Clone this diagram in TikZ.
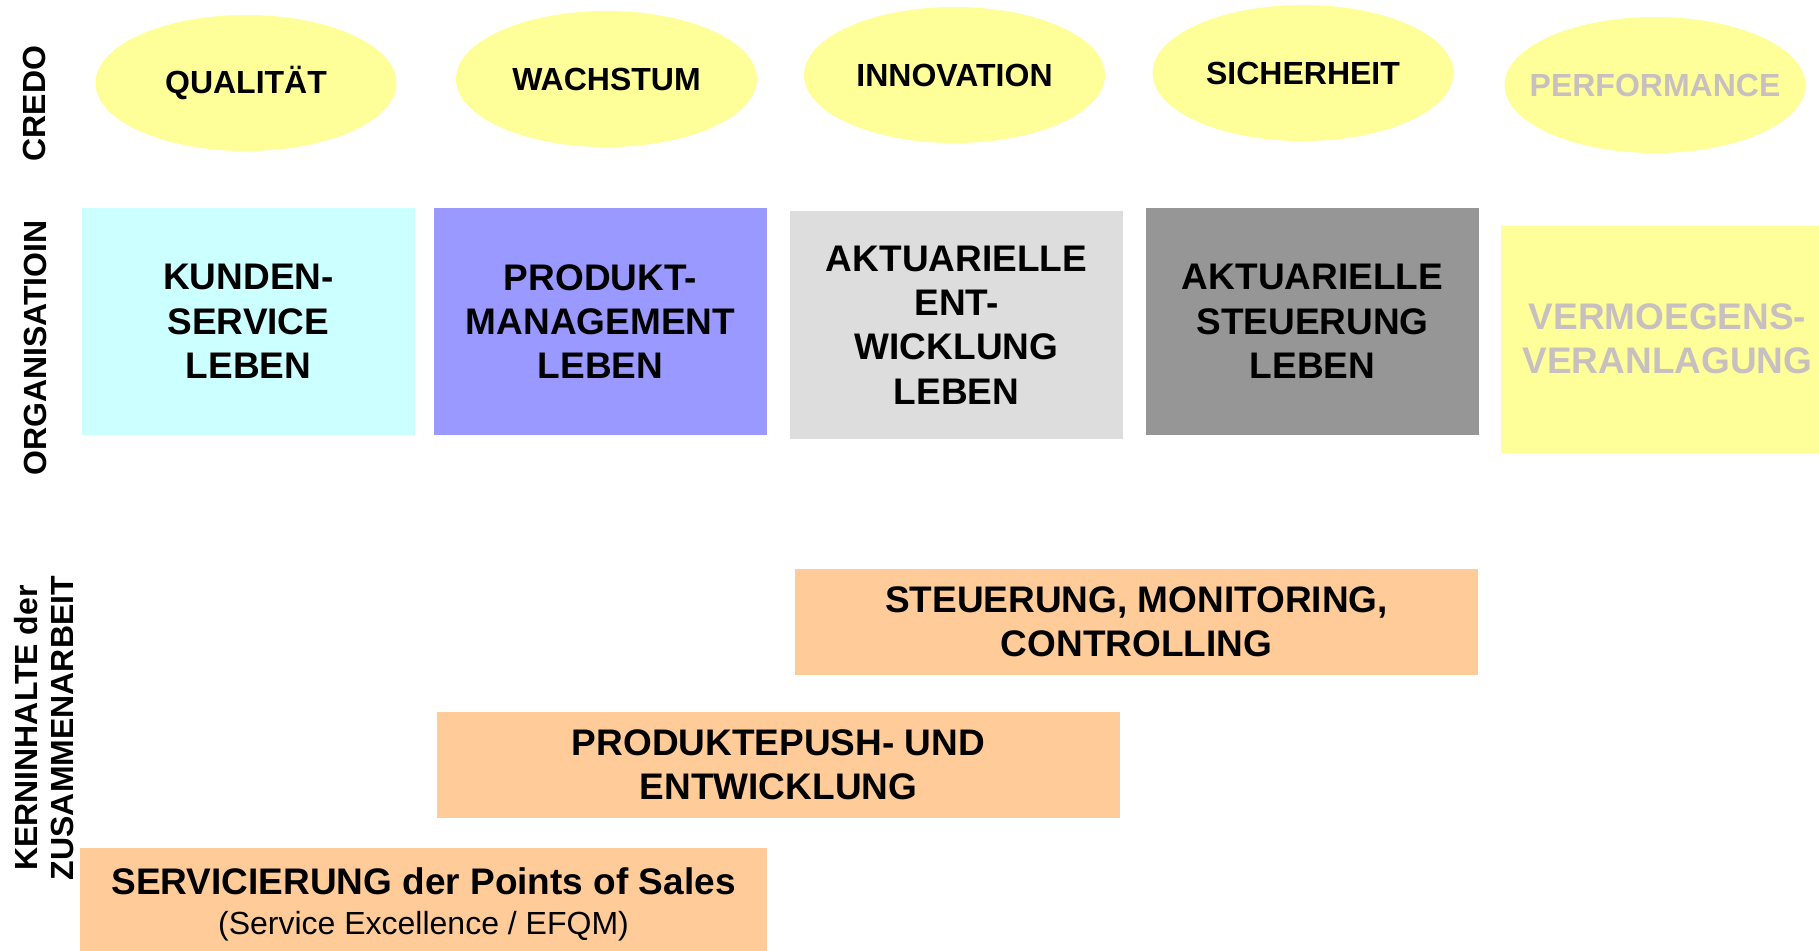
\documentclass[tikz,border=0pt]{standalone}
\usepackage{fontspec}
\setmainfont{Liberation Sans}
\usetikzlibrary{shapes.geometric}

\definecolor{credoyellow}{HTML}{FFFF99}
\definecolor{cyanbox}{HTML}{CCFFFF}
\definecolor{violetbox}{HTML}{9999FF}
\definecolor{lightgreybox}{HTML}{DDDDDD}
\definecolor{darkgreybox}{HTML}{969696}
\definecolor{kernorange}{HTML}{FFCC99}
\definecolor{greytext}{RGB}{200,192,192}

% text of a credo ellipse takes no width, so the ellipse keeps its size
\newcommand{\credotext}[1]{\makebox[0pt]{#1}}

\tikzset{every picture/.style={line width=0.75pt}}
\tikzset{
  credo/.style={ellipse, fill=credoyellow, inner sep=0pt, minimum width=225.75pt, minimum height=102pt, font=\fontsize{24}{28}\selectfont\bfseries},
  orgbox/.style={rectangle, inner sep=0pt, minimum width=249.75pt, minimum height=170.25pt, align=center, font=\fontsize{27.75}{33.2}\selectfont\bfseries},
  kernbox/.style={rectangle, fill=kernorange, inner sep=0pt, minimum width=512.25pt, minimum height=79.5pt, align=center, font=\fontsize{27.75}{33}\selectfont\bfseries},
  rowlabel/.style={rotate=90, inner sep=0pt, align=center, font=\fontsize{24}{27}\selectfont\bfseries}
}

\begin{document}
\begin{tikzpicture}[x=0.75pt,y=0.75pt,yscale=-1,xscale=1]
		\useasboundingbox (0,0) rectangle (1819,950);
		
		%Shape: Ellipse (credo)
		\node (qualitaet) [credo] at (246,83) {\credotext{QUALITÄT}};
		\node (wachstum) [credo] at (606.5,79) {\credotext{WACHSTUM}};
		\node (innovation) [credo] at (954.5,75) {\credotext{INNOVATION}};
		\node (sicherheit) [credo] at (1303,73) {\credotext{SICHERHEIT}};
		\node (performance) [credo, text=greytext] at (1655,85) {\credotext{PERFORMANCE}};
		
		%Shape: Rectangle (organisation)
		\node (kundenservice) [orgbox, fill=cyanbox] at (248.5,321.5) {KUNDEN-\\SERVICE\\LEBEN};
		\node (produktmgmt) [orgbox, fill=violetbox] at (600.5,321.5) {PRODUKT-\\MANAGEMENT\\LEBEN};
		\node (aktentwicklung) [orgbox, fill=lightgreybox, minimum height=171pt] at (956.5,325) {AKTUARIELLE\\ENT-\\WICKLUNG\\LEBEN};
		\node (aktsteuerung) [orgbox, fill=darkgreybox] at (1312.5,321.5) {AKTUARIELLE\\STEUERUNG\\LEBEN};
		\node (vermoegen) [orgbox, fill=credoyellow, text=greytext] at (1667.5,339) {VERMOEGENS-\\VERANLAGUNG};
		
		%Shape: Rectangle (kerninhalte)
		\node (steuerung) [kernbox] at (1136.5,622) {STEUERUNG, MONITORING,\\CONTROLLING};
		\node (produktepush) [kernbox] at (778.5,765) {PRODUKTEPUSH- UND\\ENTWICKLUNG};
		\node (servicierung) [kernbox, minimum width=515.25pt, text depth=0pt] at (423.5,901) {SERVICIERUNG der Points of Sales\\[-3pt]{\fontsize{24}{28}\selectfont\mdseries (Service Excellence / EFQM)}};
		
		% Text Node
		\node (credolabel) [rowlabel] at (34.5,103.5) {CREDO};
		% Text Node
		\node (orglabel) [rowlabel] at (35,348) {ORGANISATIOIN};
		% Text Node
		\node (kernlabel) [rowlabel] at (44,728) {KERNINHALTE der\\ZUSAMMENARBEIT};
		
\end{tikzpicture}
\end{document}
